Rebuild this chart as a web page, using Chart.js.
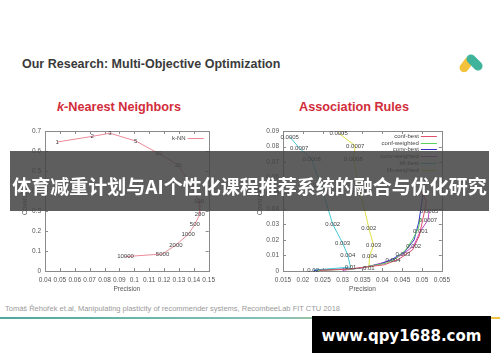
<!DOCTYPE html>
<html>
<head>
<meta charset="utf-8">
<script src="https://cdn.jsdelivr.net/npm/chart.js@4.4.0/dist/chart.umd.min.js"></script>
<style>
  html, body { margin: 0; padding: 0; }
  body { width: 500px; height: 362px; position: relative; overflow: hidden; background: #fff;
         font-family: "Liberation Sans", Arial, sans-serif; }
  .abs { position: absolute; white-space: nowrap; }
  #title { left: 22px; top: 56px; font-size: 12.5px; line-height: 16px; font-weight: bold; color: #3a3a3a; }
  .sub { top: 99px; width: 200px; text-align: center; font-size: 12.7px; line-height: 16px; font-weight: bold; color: #d22c3a; }
  canvas { position: absolute; top: 122px; }
  #knn { left: 18px; }
  #ar { left: 253px; }
  #footer { left: 5px; top: 305px; font-size: 7.5px; line-height: 8px; color: #9a9a9a; }
  #rule { left: 0; top: 317px; width: 500px; height: 2px;
          background: linear-gradient(to right, #4fa89c 0%, #86c2b8 55%, #f2c443 100%); }
  #banner { left: 10px; top: 151px; width: 479px; height: 60px; background: rgba(66,66,66,0.85); }
  #banner div { position: absolute; left: -5px; right: -5px; top: 23px; text-align: center; line-height: 24px;
                font-family: "Noto Sans CJK SC", sans-serif; font-weight: bold; font-size: 19px; color: #fff; }
  #mark { left: 312px; top: 316px; width: 179px; height: 37px; background: #000; color: #fff; text-align: center;
          font-family: "DejaVu Sans", sans-serif; font-weight: bold; font-size: 15px; line-height: 40px; }
  .pill { position: absolute; border-radius: 5px; }
</style>
</head>
<body>
<div id="title" class="abs">Our Research: Multi-Objective Optimization</div>
<div class="pill" style="left:458px;top:60px;width:17px;height:9px;background:#f4c23a;transform:rotate(-52deg);"></div>
<div class="pill" style="left:465px;top:58px;width:19px;height:9px;background:#3fb39c;transform:rotate(45deg);"></div>
<div class="abs sub" style="left:19px;"><i>k</i>-Nearest Neighbors</div>
<div class="abs sub" style="left:254px;">Association Rules</div>
<canvas id="knn" width="202" height="175"></canvas>
<canvas id="ar" width="202" height="175"></canvas>
<div id="banner" class="abs"><div>体育减重计划与AI个性化课程推荐系统的融合与优化研究</div></div>
<div id="footer" class="abs">Tomáš Řehořek et.al, Manipulating plasticity of recommender systems, RecombeeLab FIT CTU 2018</div>
<div id="rule" class="abs"></div>
<div id="mark" class="abs">www.qpy1688.com</div>
<script>
// k-NN: number of neighbours, precision, coverage
const knnLabels = ['1', '2', '3', '5', '10', '20', '50', '100', '200', '500', '1000', '2000', '5000', '10000'];
const knnPrecision = [0.0482, 0.0717, 0.0836, 0.101, 0.1163, 0.1296, 0.1376, 0.1435, 0.144, 0.1407, 0.1362, 0.128, 0.119, 0.0941];
const knnCoverage = [0.645, 0.673, 0.689, 0.65, 0.588, 0.53, 0.43, 0.35, 0.283, 0.233, 0.183, 0.13, 0.085, 0.072];
const knnXTicks = [0.04, 0.05, 0.06, 0.07, 0.08, 0.09, 0.1, 0.11, 0.12, 0.13, 0.14, 0.15];
const knnYTicks = [0, 0.1, 0.2, 0.3, 0.4, 0.5, 0.6, 0.7];

// association rules: one series per measure / strategy
const arSeries = ['conf-best', 'conf-weighted', 'conv-best', 'conv-weighted', 'lift-best', 'lift-weighted'];
const confBestPrecision = [0.0242, 0.0315, 0.0405, 0.0441, 0.0476, 0.0493, 0.0506, 0.0511, 0.0499];
const confBestCoverage = [0.0004, 0.0012, 0.0040, 0.0075, 0.0135, 0.0225, 0.0380, 0.0445, 0.0510];
const confWeightedPrecision = [0.0237, 0.0325, 0.0410, 0.0434, 0.0459, 0.0478, 0.0491, 0.0496];
const confWeightedCoverage = [0.0004, 0.0012, 0.0050, 0.0080, 0.0135, 0.0210, 0.0277, 0.0340];
const convBestPrecision = [0.0228, 0.0339, 0.0395, 0.0426, 0.0456, 0.0480, 0.0492, 0.0500, 0.0507];
const convBestCoverage = [0.0004, 0.0016, 0.0045, 0.0077, 0.0122, 0.0200, 0.0315, 0.0450, 0.0585];
const convWeightedPrecision = [0.0300, 0.0361, 0.0427, 0.0452, 0.0479, 0.0496, 0.0515, 0.0518];
const convWeightedCoverage = [0.0004, 0.0026, 0.0071, 0.0109, 0.0161, 0.0257, 0.0328, 0.0386];
const convWeightedLabels = ['', '', '0.004', '0.003', '0.002', '0.001', '0.0007', '0.0005'];
const liftBestPrecision = [0.0167, 0.0191, 0.0222, 0.0245, 0.0275, 0.0300, 0.0313, 0.0320, 0.0226];
const liftBestCoverage = [0.0862, 0.0791, 0.0720, 0.0553, 0.0302, 0.0180, 0.0103, 0.0025, 0.0006];
const liftBestLabels = ['0.0005', '0.0007', '0.0008', '0.001', '0.002', '0.003', '0.004', '0.01', '0.02'];
const liftWeightedPrecision = [0.0290, 0.0332, 0.0327, 0.0344, 0.0366, 0.0378, 0.0368, 0.0366];
const liftWeightedCoverage = [0.0887, 0.0804, 0.0720, 0.0521, 0.0277, 0.0167, 0.0096, 0.0018];
const liftWeightedLabels = ['0.0005', '0.0007', '0.0008', '0.001', '0.002', '0.003', '0.004', '0.01'];
const arXTicks = [0.015, 0.02, 0.025, 0.03, 0.035, 0.04, 0.045, 0.05, 0.055];
const arYTicks = [0, 0.01, 0.02, 0.03, 0.04, 0.05, 0.06, 0.07, 0.08, 0.09];

const family = '"Liberation Sans", Arial, sans-serif';
const fmt = v => String(+(+v).toFixed(4));

function points(xs, ys) {
    return xs.map((x, i) => ({x: x, y: ys[i]}));
}

// gnuplot style box with inward ticks on all sides
const framePlugin = {
    id: 'frame',
    beforeDatasetsDraw(chart) {
        const {ctx, chartArea: a, scales: {x, y}} = chart;
        ctx.save();
        ctx.strokeStyle = '#8a8a8a';
        ctx.lineWidth = 1;
        ctx.strokeRect(Math.round(a.left) + 0.5, Math.round(a.top) + 0.5, Math.round(a.right - a.left), Math.round(a.bottom - a.top));
        ctx.beginPath();
        x.ticks.forEach(t => {
            const px = Math.round(x.getPixelForValue(t.value)) + 0.5;
            ctx.moveTo(px, a.bottom); ctx.lineTo(px, a.bottom - 3);
            ctx.moveTo(px, a.top); ctx.lineTo(px, a.top + 3);
        });
        y.ticks.forEach(t => {
            const py = Math.round(y.getPixelForValue(t.value)) + 0.5;
            ctx.moveTo(a.left, py); ctx.lineTo(a.left + 3, py);
            ctx.moveTo(a.right, py); ctx.lineTo(a.right - 3, py);
        });
        ctx.stroke();
        ctx.restore();
    }
};

// text label at each point (gnuplot "with labels")
const pointTextPlugin = {
    id: 'pointText',
    afterDatasetsDraw(chart) {
        const ctx = chart.ctx;
        ctx.save();
        ctx.font = '6px ' + family;
        ctx.fillStyle = '#444';
        ctx.textAlign = 'center';
        ctx.textBaseline = 'middle';
        chart.data.datasets.forEach((ds, i) => {
            if (!ds.pointText) return;
            chart.getDatasetMeta(i).data.forEach((el, j) => {
                if (ds.pointText[j]) ctx.fillText(ds.pointText[j], el.x, el.y);
            });
        });
        ctx.restore();
    }
};

// key drawn inside the plot, top right
const innerLegend = {
    id: 'innerLegend',
    afterDatasetsDraw(chart, args, opts) {
        const {ctx, chartArea: a} = chart;
        ctx.save();
        ctx.font = '6px ' + family;
        ctx.textAlign = 'right';
        ctx.textBaseline = 'middle';
        ctx.fillStyle = '#444';
        ctx.lineWidth = 1;
        chart.data.datasets.forEach((ds, i) => {
            const yy = Math.round(a.top + opts.top + i * opts.step) + 0.5;
            ctx.fillText(ds.label, a.right - 23, yy);
            ctx.strokeStyle = ds.borderColor;
            ctx.beginPath();
            ctx.moveTo(a.right - 21, yy);
            ctx.lineTo(a.right - 5, yy);
            ctx.stroke();
        });
        ctx.restore();
    }
};

function makeChart(id, datasets, xTicks, yTicks, yWidth, legendOpts) {
    return new Chart(document.getElementById(id), {
        type: 'scatter',
        data: {datasets: datasets},
        options: {
            responsive: false,
            animation: false,
            devicePixelRatio: 1,
            layout: {padding: {top: 9, right: 9, left: 0, bottom: 0}},
            elements: {point: {radius: 0}, line: {borderWidth: 1, tension: 0}},
            plugins: {legend: {display: false}, tooltip: {enabled: false}, innerLegend: legendOpts},
            scales: {
                x: {
                    type: 'linear', min: xTicks[0], max: xTicks[xTicks.length - 1],
                    afterBuildTicks: s => { s.ticks = xTicks.map(v => ({value: v})); },
                    afterFit: s => { s.height = 26; },
                    grid: {display: false, drawTicks: false},
                    border: {display: false},
                    ticks: {font: {size: 6.5, family: family}, color: '#555', padding: 5, maxRotation: 0, autoSkip: false, callback: fmt},
                    title: {display: true, text: 'Precision', font: {size: 6.5, family: family}, color: '#555', padding: {top: 0, bottom: 4}}
                },
                y: {
                    type: 'linear', min: yTicks[0], max: yTicks[yTicks.length - 1],
                    afterBuildTicks: s => { s.ticks = yTicks.map(v => ({value: v})); },
                    afterFit: s => { s.width = yWidth; },
                    grid: {display: false, drawTicks: false},
                    border: {display: false},
                    ticks: {font: {size: 6.5, family: family}, color: '#555', padding: 4, autoSkip: false, callback: fmt},
                    title: {display: true, text: 'Coverage', font: {size: 6.5, family: family}, color: '#555', padding: {top: 3, bottom: 0}}
                }
            }
        },
        plugins: [framePlugin, pointTextPlugin, innerLegend]
    });
}

makeChart('knn', [{
    label: 'k-NN',
    data: points(knnPrecision, knnCoverage),
    pointText: knnLabels,
    showLine: true,
    borderColor: '#ec8a98',
    backgroundColor: '#ec8a98'
}], knnXTicks, knnYTicks, 27, {top: 7, step: 7});

const arColors = ['#e0506a', '#5cd05c', '#3030c8', '#c848c8', '#48c8d8', '#dede48'];
const arData = [
    [confBestPrecision, confBestCoverage, null],
    [confWeightedPrecision, confWeightedCoverage, null],
    [convBestPrecision, convBestCoverage, null],
    [convWeightedPrecision, convWeightedCoverage, convWeightedLabels],
    [liftBestPrecision, liftBestCoverage, liftBestLabels],
    [liftWeightedPrecision, liftWeightedCoverage, liftWeightedLabels]
];
makeChart('ar', arSeries.map((name, i) => ({
    label: name,
    data: points(arData[i][0], arData[i][1]),
    pointText: arData[i][2],
    showLine: true,
    borderColor: arColors[i],
    backgroundColor: arColors[i]
})), arXTicks, arYTicks, 30, {top: 5, step: 6.7});
</script>
</body>
</html>
